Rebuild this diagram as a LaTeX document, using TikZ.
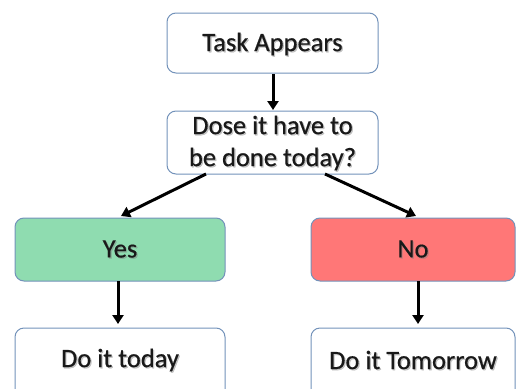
\documentclass[tikz,border=0pt]{standalone}
\usepackage{fontspec}
\setmainfont{Carlito}
\newfontfamily\lblfont[FakeBold=0.5]{Carlito}
\usetikzlibrary{arrows.meta}
\definecolor{boxline}{HTML}{7392BA}
\definecolor{yesfill}{HTML}{8FDCB0}
\definecolor{nofill}{HTML}{FF7777}
\tikzset{
  flowbox/.style={draw=boxline, line width=1pt, rounded corners=9pt, fill=white},
  lbl/.style={font=\lblfont\fontsize{26.5}{32}\selectfont, align=center, inner sep=0pt, text=black!90},
  lblshadow/.style={lbl, text=gray, opacity=0.45},
  flowarrow/.style={draw=black, line width=3pt, -{Triangle[length=9pt,width=11pt]}}
}
\newcommand{\shadowlabel}[3]{%
  \node[lblshadow] at ($(#2)+(1.2,1.2)$) {#3};
  \node[lbl] (#1) at (#2) {#3};}
\usetikzlibrary{calc}
\begin{document}
\begin{tikzpicture}[x=1pt,y=-1pt]
  \useasboundingbox (0,0) rectangle (516,388);
  % boxes
  \draw[flowbox] (167,13) rectangle (378,73);
  \draw[flowbox] (167,111) rectangle (378,174);
  \draw[flowbox, fill=yesfill] (15,218) rectangle (225,281);
  \draw[flowbox, fill=nofill] (311,218) rectangle (515,281);
  \draw[flowbox] (15,328) rectangle (225,410);
  \draw[flowbox] (311,328) rectangle (515,410);
  % labels, each with a soft drop shadow
  \shadowlabel{task}{272.5,44}{Task Appears}
  \shadowlabel{ask}{272.5,143}{Dose it have to\\be done today?}
  \shadowlabel{yes}{120,249}{Yes}
  \shadowlabel{no}{413,249}{No}
  \shadowlabel{today}{120,360}{Do it today}
  \shadowlabel{tomorrow}{413,360}{Do it Tomorrow}
  % anchor points on the box edges
  \coordinate (taskB) at (273,74);
  \coordinate (askT) at (273,110);
  \coordinate (askL) at (206,174);
  \coordinate (askR) at (325,174);
  \coordinate (yesT) at (121,216);
  \coordinate (noT) at (416,216);
  \coordinate (yesB) at (118,281);
  \coordinate (noB) at (418,281);
  \coordinate (todayT) at (118,324);
  \coordinate (tomorrowT) at (418,324);
  % connectors
  \draw[flowarrow] (taskB) -- (askT);
  \draw[flowarrow] (askL) -- (yesT);
  \draw[flowarrow] (askR) -- (noT);
  \draw[flowarrow] (yesB) -- (todayT);
  \draw[flowarrow] (noB) -- (tomorrowT);
\end{tikzpicture}
\end{document}
